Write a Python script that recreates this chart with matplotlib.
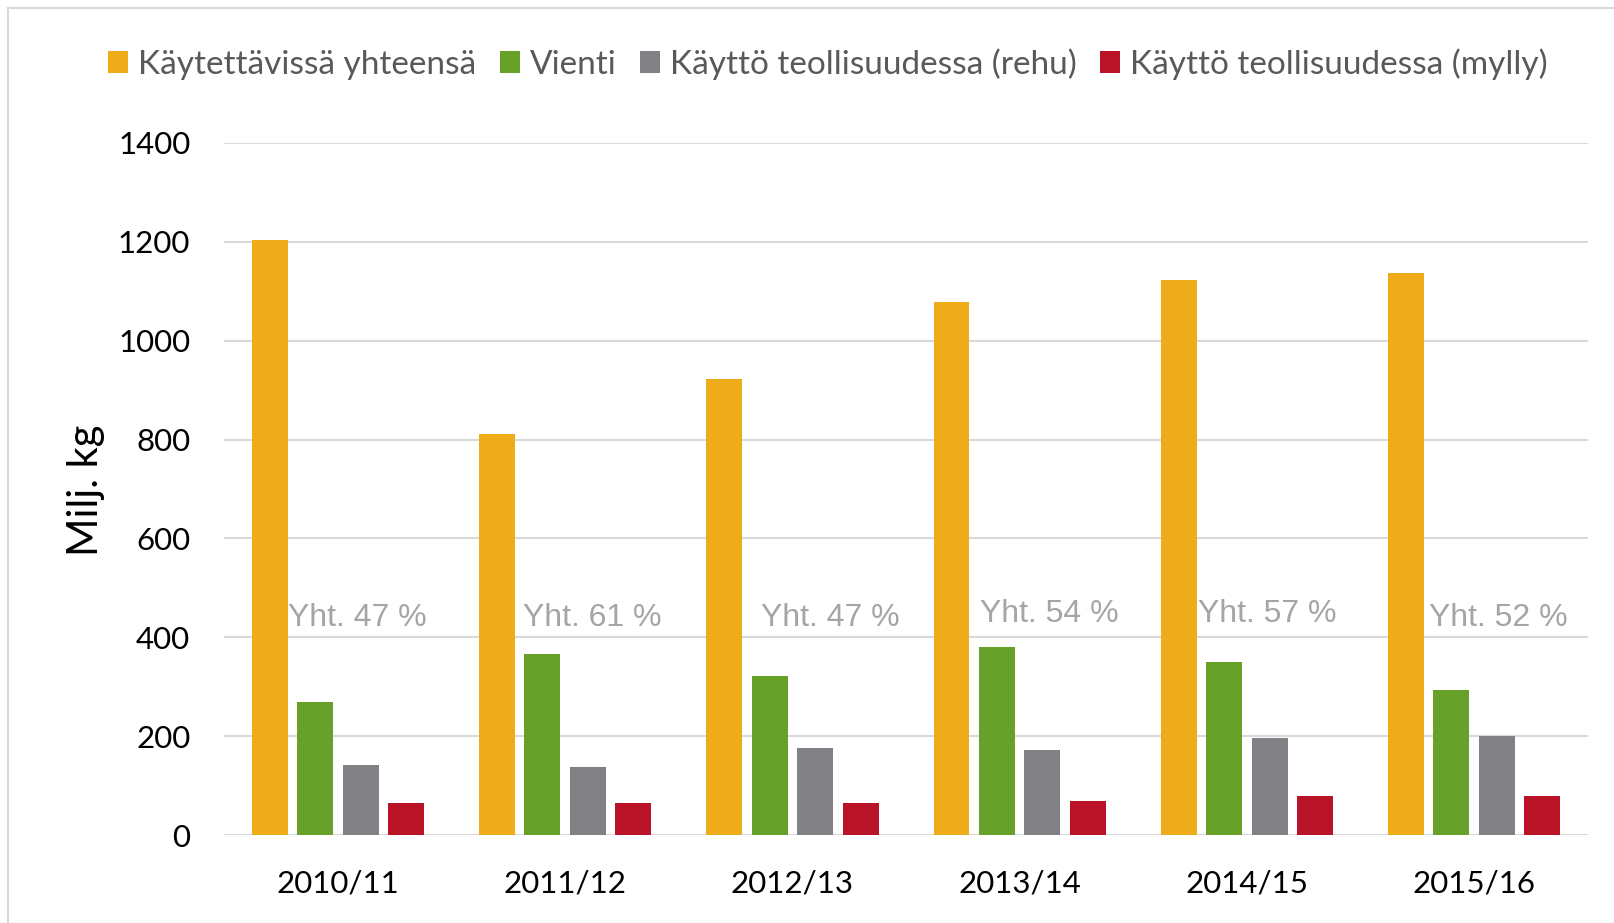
import matplotlib.pyplot as plt
from matplotlib.patches import Rectangle
import numpy as np

plt.rcParams['font.family'] = ['Lato', 'DejaVu Sans']

# ==== data
seasons = ["2010/11", "2011/12", "2012/13", "2013/14", "2014/15", "2015/16"]
series_names = ["Käytettävissä yhteensä", "Vienti",
                "Käyttö teollisuudessa (rehu)", "Käyttö teollisuudessa (mylly)"]
available = [1203, 812, 922, 1078, 1122, 1136]
export = [269, 366, 322, 380, 351, 293]
feed_use = [143, 138, 176, 172, 196, 201]
mill_use = [65, 65, 65, 70, 80, 80]
share_labels = ["Yht. 47 %", "Yht. 61 %", "Yht. 47 %", "Yht. 54 %", "Yht. 57 %", "Yht. 52 %"]
share_label_x = [-0.22, 0.815, 1.862, 2.824, 3.786, 4.801]  # left edge, data coords
share_label_y = [423, 423, 423, 431, 431, 423]

colors = ["#EFAC1A", "#68A12A", "#818084", "#BA1226"]
grid_color = "#d9d9d9"

# ==== figure
fig = plt.figure(figsize=(16.15, 9.23), dpi=100)
ax = fig.add_axes([0.1389, 0.0950, 0.8442, 0.7504])

x = np.arange(len(seasons))
width = 0.158
offsets = [-0.3, -0.1, 0.1, 0.3]
bars = []
for values, off, c, name in zip((available, export, feed_use, mill_use), offsets, colors, series_names):
    b = ax.bar(x + off, values, width=width, color=c, label=name, zorder=2)
    bars.append(b)

for xs, ys, txt in zip(share_label_x, share_label_y, share_labels):
    ax.text(xs, ys, txt, ha="left", va="baseline", fontsize=23,
            family=["Liberation Sans", "DejaVu Sans"], color="#a5a5a5", zorder=3)

ax.set_xlim(-0.5, len(seasons) - 0.5)
ax.set_ylim(0, 1400)
ax.set_yticks(np.arange(0, 1401, 200))
ax.set_xticks(x)
ax.set_xticklabels(seasons)
ax.tick_params(axis="y", length=0, pad=24.5, labelsize=22.5, labelcolor="black")
ax.tick_params(axis="x", length=0, pad=24.5, labelsize=22.5, labelcolor="black")
ax.yaxis.grid(True, color=grid_color, linewidth=1.5, zorder=0)
ax.set_axisbelow(True)
for s in ax.spines.values():
    s.set_visible(False)

fig.text(86 / 1615, 1 - 490 / 923, "Milj. kg", rotation=90, ha="center", va="center",
         fontsize=30, color="black")

fig.legend(handles=bars, loc="center", bbox_to_anchor=(0.5125, 0.9307), ncol=4,
           frameon=False, fontsize=24, labelcolor="#595959",
           handlelength=0.6, handleheight=0.6, handletextpad=0.3, columnspacing=0.7)

# chart area border (only top and left visible in the reference)
fig.add_artist(Rectangle((8.5 / 1615, -0.1), 2, 1.1 - 8.5 / 923, transform=fig.transFigure,
                         fill=False, edgecolor=grid_color, linewidth=1.5))

fig.savefig("out.png", dpi=100)
